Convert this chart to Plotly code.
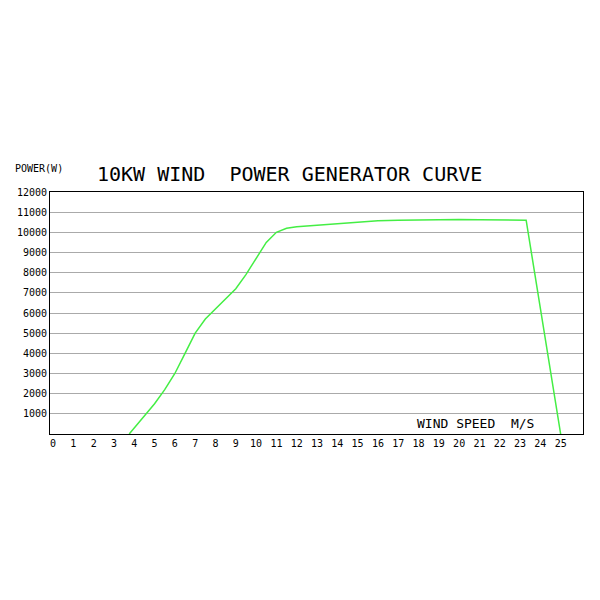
import plotly.graph_objects as go

wind_speed = [3.75, 4.5, 5, 5.5, 6, 6.5, 7, 7.5, 8, 8.5, 9, 9.5, 10, 10.5, 11, 11.5, 12, 13, 14, 15, 16, 17, 18, 19, 20, 21, 22, 23, 23.3, 25.0]
power = [0, 900, 1500, 2200, 3000, 4000, 5000, 5700, 6200, 6700, 7200, 7900, 8700, 9500, 10000, 10200, 10280, 10350, 10420, 10520, 10580, 10600, 10620, 10620, 10640, 10620, 10620, 10620, 10600, 0]
x_ticks = list(range(0, 26))
y_ticks = list(range(1000, 12001, 1000))

fig = go.Figure(go.Scatter(x=wind_speed, y=power, mode="lines", line=dict(color="#44ee44", width=1.5)))
font = "DejaVu Sans Mono"
fig.update_layout(
    width=600, height=600, margin=dict(l=42, r=25, t=184, b=174),
    plot_bgcolor="white", paper_bgcolor="white", showlegend=False,
    font=dict(family=font, size=10, color="black"),
    xaxis=dict(range=[-0.15, 26.1], tickvals=x_ticks, showgrid=False, zeroline=False, automargin=False,
               showline=True, linecolor="black", mirror=True, ticks="", tickfont=dict(size=10)),
    yaxis=dict(range=[0, 12000], tickvals=y_ticks, tickformat="d", showgrid=True, gridcolor="#aaaaaa",
               zeroline=False, automargin=False,
               showline=True, linecolor="black", mirror=True, ticks="", tickfont=dict(size=10)),
    annotations=[
        dict(text="POWER(W)", xref="paper", yref="paper", x=-0.07, y=1, yshift=24, yanchor="middle",
             xanchor="left", showarrow=False, font=dict(size=10)),
        dict(text="10KW WIND  POWER GENERATOR CURVE", xref="paper", yref="paper", x=0.45, y=1, yshift=18,
             yanchor="middle", xanchor="center", showarrow=False, font=dict(size=20)),
        dict(text="WIND SPEED  M/S", xref="x", yref="y", x=20.8, y=500, showarrow=False, font=dict(size=13)),
    ],
)
fig.write_html("out.html")
